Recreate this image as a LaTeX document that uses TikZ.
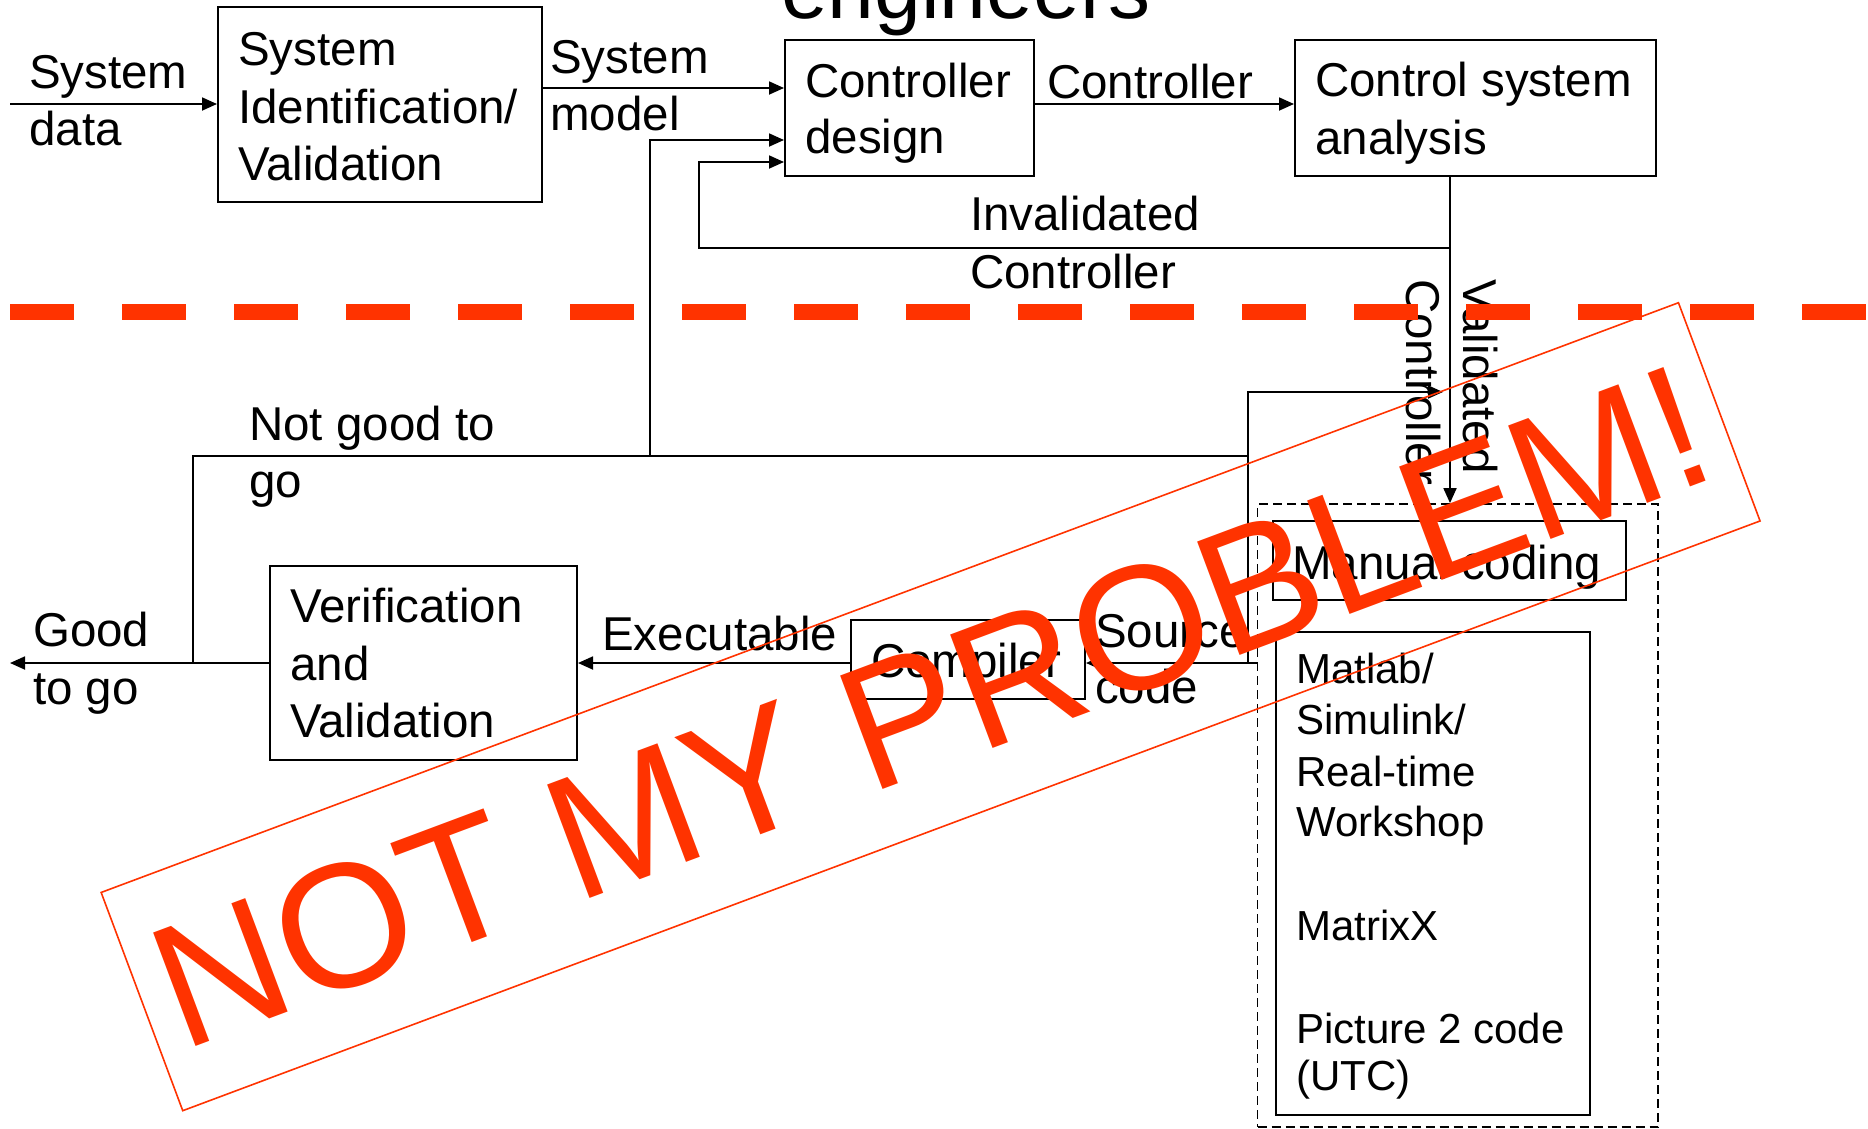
\documentclass[tikz,border=0pt]{standalone}
\usepackage{fontspec}
\setmainfont{Liberation Sans}
\usetikzlibrary{arrows.meta}
\definecolor{stampred}{HTML}{FF3300}
\begin{document}
\begin{tikzpicture}[x=1pt,y=-1pt,
  box/.style={draw, line width=2pt, inner sep=0pt},
  conn/.style={line width=1.8pt},
  arr/.style={conn, -{Triangle[length=15pt,width=13pt]}},
  lbl/.style={anchor=base west, inner sep=0pt, font=\fontsize{47.5}{57}\selectfont},
  small/.style={anchor=base west, inner sep=0pt, font=\fontsize{42}{51.5}\selectfont},
  stamp/.style={draw=stampred, line width=1.6pt, text=stampred, inner sep=0pt,
    font=\fontsize{176}{176}\selectfont},
]
\useasboundingbox (0,0) rectangle (1868,1128);
\fill[white] (0,0) rectangle (1868,1128);
\clip (0,0) rectangle (1868,1128);

% heading, mostly outside the page
\node[anchor=base west, inner sep=0pt, font=\fontsize{84}{84}\selectfont] (head) at (781,18) {engineers};

% blocks
\node[box, minimum width=324pt, minimum height=195pt] (sysid) at (380,104.5) {};
\node[box, minimum width=249pt, minimum height=136pt] (design) at (909.5,108) {};
\node[box, minimum width=361pt, minimum height=136pt] (analysis) at (1475.5,108) {};
\node[box, minimum width=307.5pt, minimum height=194pt] (verif) at (423.25,663) {};
\node[box, minimum width=234pt, minimum height=79pt] (compiler) at (968,659.5) {};
\node[draw, line width=1.8pt, dash pattern=on 9pt off 5pt, inner sep=0pt,
      minimum width=400.5pt, minimum height=623pt] (codegen) at (1457.75,815.5) {};
\node[box, minimum width=353pt, minimum height=79pt] (manual) at (1449.5,560.5) {};
\node[box, minimum width=314pt, minimum height=483pt] (tools) at (1433,873.5) {};

% junctions and free ends
\coordinate (dataIn) at (10,104);
\coordinate (tap) at (1450,176);
\coordinate (inv) at (1450,248);
\coordinate (invUp) at (699,162);
\coordinate (goOut) at (10,663);
\coordinate (ngDown) at (193,663);
\coordinate (ngEnd) at (1248,456);
\coordinate (ngUp) at (650,456);
\coordinate (srcTap) at (1248,663);
\coordinate (backIn) at (1443,392);

% connectors
\draw[arr] (dataIn) -- (dataIn -| sysid.west);
\draw[arr] (sysid.east |- 0,88) -- (design.west |- 0,88);
\draw[arr] (design.east |- 0,104) -- (analysis.west |- 0,104);
\draw[arr] (tap) -- (codegen.north -| tap);
\draw[arr] (inv) -| (invUp) -- (design.west |- invUp);
\draw[arr] (ngUp) |- (design.west |- 0,140);
\draw[conn] (ngDown) |- (ngEnd);
\draw[arr] (srcTap) |- (backIn);
\draw[arr] (codegen.west |- srcTap) -- (compiler.east |- srcTap);
\draw[arr] (compiler.west |- goOut) -- (verif.east |- goOut);
\draw[arr] (verif.west |- goOut) -- (goOut);

% texts
\node[lbl] (lSys1) at (29,88) {System};
\node[lbl] (lSys2) at (29,145) {data};
\node[lbl] (tSid1) at (238,65) {System};
\node[lbl] (tSid2) at (238,123) {Identification/};
\node[lbl] (tSid3) at (238,180) {Validation};
\node[lbl] (lMod1) at (550,73) {System};
\node[lbl] (lMod2) at (550,130) {model};
\node[lbl] (tDes1) at (805,97) {Controller};
\node[lbl] (tDes2) at (805,153) {design};
\node[lbl] (lCtl) at (1047,98) {Controller};
\node[lbl] (tAna1) at (1315,96) {Control system};
\node[lbl] (tAna2) at (1315,154) {analysis};
\node[lbl] (lInv1) at (970,230) {Invalidated};
\node[lbl] (lInv2) at (970,288) {Controller};
\node[lbl, rotate=-90] (lVal1) at (1463,279) {Validated};
\node[lbl, rotate=-90] (lVal2) at (1406,279) {Controller};
\node[lbl] (lNg1) at (249,440) {Not good to};
\node[lbl] (lNg2) at (249,497) {go};
\node[lbl] (lGo1) at (33,646) {Good};
\node[lbl] (lGo2) at (33,704) {to go};
\node[lbl] (tVer1) at (290,622) {Verification};
\node[lbl] (tVer2) at (290,680) {and};
\node[lbl] (tVer3) at (290,737) {Validation};
\node[lbl] (lExe) at (602,650) {Executable};
\node[lbl] (tCmp) at (871,677) {Compiler};
\node[lbl] (lSrc1) at (1095,647) {Source};
\node[lbl] (lSrc2) at (1095,703) {code};
\node[lbl] (tMan) at (1292,579) {Manual coding};
\node[small] (tT1) at (1296,683) {Matlab/};
\node[small] (tT2) at (1296,734) {Simulink/};
\node[small] (tT3) at (1296,786) {Real-time};
\node[small] (tT4) at (1296,836) {Workshop};
\node[small] (tT5) at (1296,940) {MatrixX};
\node[small] (tT6) at (1296,1043) {Picture 2 code};
\node[small] (tT7) at (1296,1090) {(UTC)};

% dividing line between the two halves
\draw[stampred, line width=16pt, dash pattern=on 64pt off 48pt] (10,312) -- (1868,312);

% stamp on top
\node[stamp, rotate=20.5, minimum width=1684pt, minimum height=233pt] (stampbox) at (930.6,706.7) {NOT MY PROBLEM!};
\end{tikzpicture}
\end{document}
